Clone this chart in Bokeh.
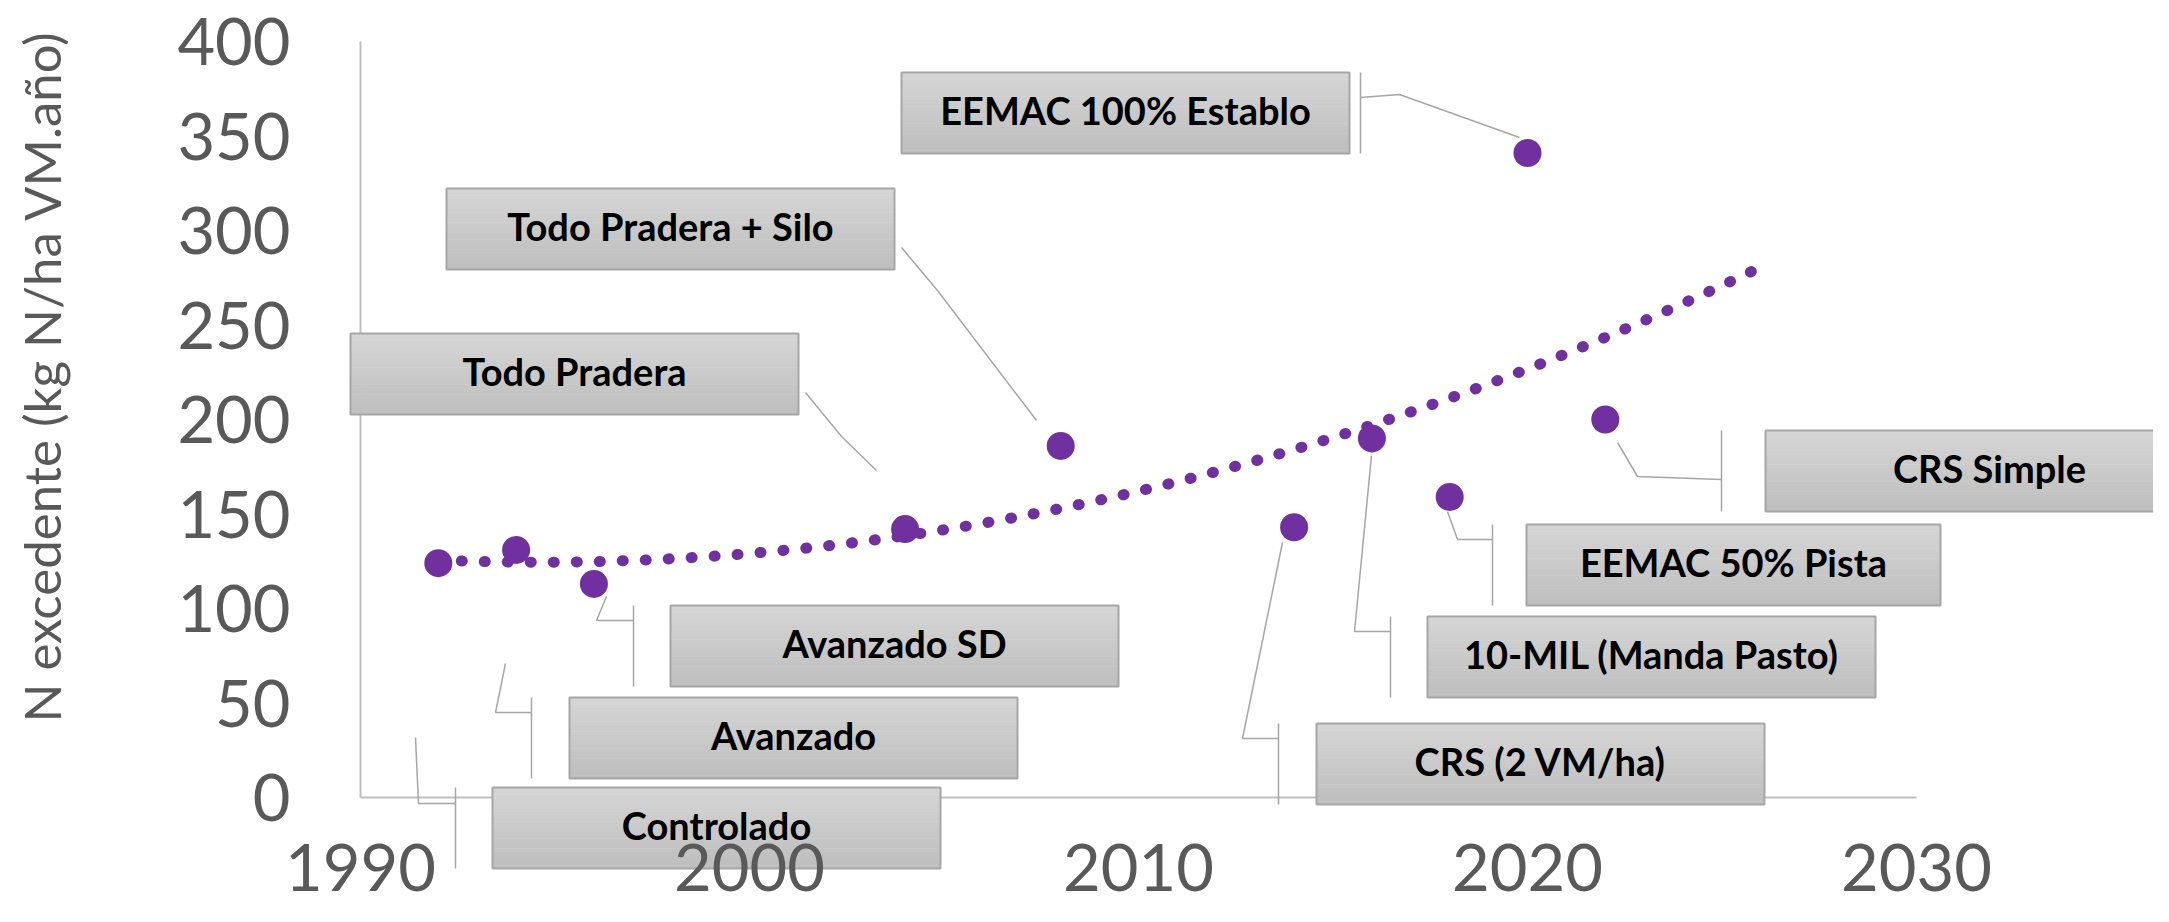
import numpy as np
from bokeh.plotting import figure
from bokeh.models import Range1d, FixedTicker, Title
from bokeh.core.properties import value
from bokeh.embed import file_html
from bokeh.resources import INLINE

# ---------------- data ----------------
labels = ["Controlado", "Avanzado", "Avanzado SD", "Todo Pradera", "Todo Pradera + Silo",
          "CRS (2 VM/ha)", "10-MIL (Manda Pasto)", "EEMAC 50% Pista",
          "EEMAC 100% Establo", "CRS Simple"]
years = [1992, 1994, 1996, 2004, 2008, 2014, 2016, 2018, 2020, 2022]
n_excedente = [124, 131, 113, 142, 186, 143, 190, 159, 341, 200]
x_ticks = [1990, 2000, 2010, 2020, 2030]
y_ticks = [0, 50, 100, 150, 200, 250, 300, 350, 400]
y_title = "N excedente (kg N/ha VM.año)"
trend_order = 2
trend_forward = 4

# ---------------- layout (pixel geometry) ----------------
W, H = 2153, 906
X0_PX, PX_PER_YEAR = 360.0, 38.9
Y0_PX, PX_PER_UNIT = 797.0, 1.89


def dx(px):
    return 1990 + (px - X0_PX) / PX_PER_YEAR


def dy(py):
    return (Y0_PX - py) / PX_PER_UNIT


FONT = "Lato"
PURPLE = "#7030A0"
GREY_TXT = "#595959"

# label boxes: left, top, width (px), bracket x (px or None), leader polyline (px)
BOX_H = 81
boxes = {
    "Controlado": (492, 787, 448, 455, [(415, 737), (418, 803), (455, 803)]),
    "Avanzado": (569, 697, 448, 531, [(505, 663), (495, 712), (531, 712)]),
    "Avanzado SD": (670, 605, 448, 633, [(606, 596), (596, 620), (633, 620)]),
    "Todo Pradera": (350, 333, 448, None, [(805, 392), (841, 436), (876, 470)]),
    "Todo Pradera + Silo": (446, 188, 448, None, [(901, 247), (937, 290), (1036, 420)]),
    "CRS (2 VM/ha)": (1316, 723, 448, 1278, [(1282, 542), (1242, 738), (1278, 738)]),
    "10-MIL (Manda Pasto)": (1427, 616, 448, 1390, [(1371, 455), (1354, 631), (1390, 631)]),
    "EEMAC 50% Pista": (1526, 524, 414, 1492, [(1447, 511), (1457, 539), (1492, 539)]),
    "EEMAC 100% Establo": (901, 72, 448, 1360, [(1360, 97), (1399, 94), (1519, 137)]),
    "CRS Simple": (1765, 430, 448, 1721, [(1617, 442), (1637, 476), (1721, 479)]),
}

FRAME_L, FRAME_B = 340, 870

p = figure(width=W, height=H, output_backend="svg", toolbar_location=None,
           x_range=Range1d(dx(FRAME_L), dx(W)),
           y_range=Range1d(dy(FRAME_B), dy(0)),
           min_border_left=FRAME_L, min_border_right=0, min_border_top=0,
           min_border_bottom=H - FRAME_B)
p.outline_line_color = None
p.grid.visible = False
p.background_fill_color = "white"
p.border_fill_color = "white"

for ax, ticks in ((p.xaxis[0], x_ticks), (p.yaxis[0], y_ticks)):
    ax.ticker = FixedTicker(ticks=ticks)
    ax.axis_line_color = None
    ax.major_tick_line_color = None
    ax.minor_tick_line_color = None
    ax.major_tick_out = 0
    ax.major_tick_in = 0
    ax.major_label_text_font = FONT
    ax.major_label_text_font_size = "65px"
    ax.major_label_text_color = GREY_TXT
p.yaxis[0].major_label_standoff = 50
p.xaxis[0].major_label_standoff = -27

# y axis title (spacer panel between tick labels and title)
p.add_layout(Title(text=" ", text_font_size="1px", standoff=98), "left")
p.add_layout(Title(text=y_title, align="left", offset=148,
                   vertical_align="top", standoff=0,
                   text_font=FONT, text_font_size="51px", text_font_style="normal",
                   text_color=GREY_TXT), "left")

# axis lines
p.segment(x0=[x_ticks[0], x_ticks[0]], y0=[y_ticks[0], y_ticks[0]],
          x1=[x_ticks[-1], x_ticks[0]], y1=[y_ticks[0], y_ticks[-1]],
          line_color="#bfbfbf", line_width=2)

# trendline (2nd-order polynomial, forecast 4 years)
coef = np.polyfit(years, n_excedente, trend_order)
tx = np.linspace(years[0], years[-1] + trend_forward, 300)
p.line(tx, np.polyval(coef, tx), line_color=PURPLE, line_width=11,
       line_dash="1 22", line_cap="round")

# markers
p.scatter(years, n_excedente, size=28, marker="circle", fill_color=PURPLE,
          line_color=None)

# leader lines and brackets
lx, ly = [], []
for name in labels:
    left, top, w, bx, path = boxes[name]
    lx.append([dx(a) for a, b in path])
    ly.append([dy(b) for a, b in path])
    if bx is not None:
        lx.append([dx(bx), dx(bx)])
        ly.append([dy(top), dy(top + BOX_H)])
p.multi_line(lx, ly, line_color="#a6a6a6", line_width=1.5)

# gradient boxes
N = 24
top_c = np.array([214, 214, 214])
bot_c = np.array([189, 189, 189])
for name in labels:
    left, top, w, bx, path = boxes[name]
    L, R, T, B, C = [], [], [], [], []
    for i in range(N):
        t0 = top + BOX_H * i / N
        t1 = top + BOX_H * (i + 1) / N + 0.6
        c = top_c + (bot_c - top_c) * (i + 0.5) / N
        T.append(dy(t0))
        B.append(dy(min(t1, top + BOX_H)))
        L.append(dx(left))
        R.append(dx(left + w))
        C.append("#%02x%02x%02x" % tuple(int(round(v)) for v in c))
    p.quad(left=L, right=R, top=T, bottom=B, fill_color=C, line_color=None)
    p.quad(left=[dx(left)], right=[dx(left + w)], top=[dy(top)], bottom=[dy(top + BOX_H)],
           fill_color=None, line_color="#a6a6a6", line_width=2)
    p.text(x=[dx(left + w / 2)], y=[dy(top + BOX_H / 2 - 3)], text=[name],
           text_font=value(FONT), text_font_style="bold", text_font_size="38px",
           text_color="black", text_align="center", text_baseline="middle")

open("out.html", "w").write(file_html(p, INLINE))
